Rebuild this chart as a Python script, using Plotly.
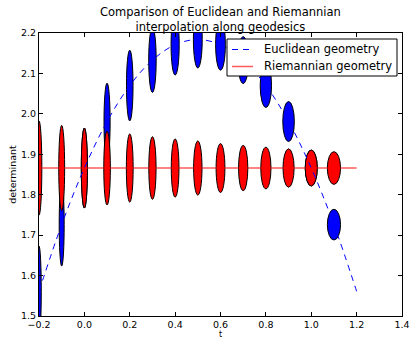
import plotly.graph_objects as go

# ---- data ----
t_line = [-0.2, -0.1, 0.0, 0.1, 0.2, 0.3, 0.4, 0.5, 0.6, 0.7, 0.8, 0.9, 1.0, 1.1, 1.2]
det_euclid = [1.561, 1.726, 1.866, 1.981, 2.070, 2.133, 2.171, 2.184, 2.171, 2.133, 2.070, 1.981, 1.866, 1.726, 1.561]
det_riemann = [1.866] * len(t_line)

t_ell = [-0.2, -0.1, 0.0, 0.1, 0.2, 0.3, 0.4, 0.5, 0.6, 0.7, 0.8, 0.9, 1.0, 1.1]
blue_center = [1.561, 1.726, 1.866, 1.981, 2.070, 2.133, 2.171, 2.184, 2.171, 2.133, 2.070, 1.981, 1.866, 1.726]
blue_width = [0.020, 0.022, 0.027, 0.027, 0.029, 0.033, 0.036, 0.039, 0.043, 0.046, 0.050, 0.051, 0.053, 0.058]
blue_height = [0.224, 0.205, 0.198, 0.190, 0.175, 0.160, 0.150, 0.141, 0.126, 0.116, 0.108, 0.099, 0.089, 0.076]
red_center = [1.866] * len(t_ell)
red_width = [0.025, 0.026, 0.027, 0.029, 0.030, 0.032, 0.034, 0.037, 0.039, 0.041, 0.045, 0.049, 0.053, 0.058]
red_height = [0.233, 0.211, 0.198, 0.183, 0.169, 0.155, 0.144, 0.134, 0.121, 0.112, 0.103, 0.095, 0.089, 0.081]

series_names = ["Euclidean geometry", "Riemannian geometry"]
title_text = "Comparison of Euclidean and Riemannian<br>interpolation along geodesics"

FONT = "DejaVu Sans"
BLUE_LINE = dict(color="#0000ff", width=1, dash="6px,5px")
RED_LINE = dict(color="rgba(255,0,0,0.65)", width=1.5)

fig = go.Figure()
fig.add_trace(go.Scatter(x=t_line, y=det_euclid, mode="lines", name=series_names[0],
                         line=dict(**BLUE_LINE, shape="spline"), showlegend=False))
fig.add_trace(go.Scatter(x=t_line, y=det_riemann, mode="lines", name=series_names[1],
                         line=RED_LINE, showlegend=False))

shapes = []
for t, c, w, h in zip(t_ell, blue_center, blue_width, blue_height):
    shapes.append(dict(type="circle", xref="x", yref="y", x0=t - w / 2, x1=t + w / 2,
                       y0=c - h / 2, y1=c + h / 2, fillcolor="#0000ff",
                       line=dict(color="black", width=1), layer="below"))
for t, c, w, h in zip(t_ell, red_center, red_width, red_height):
    shapes.append(dict(type="circle", xref="x", yref="y", x0=t - w / 2, x1=t + w / 2,
                       y0=c - h / 2, y1=c + h / 2, fillcolor="#ff0000",
                       line=dict(color="black", width=1), layer="below"))

# legend box (matplotlib-style), in paper coordinates
W, H = 410, 339
L, R, T, B = 39, 8, 33, 23
pw, ph = W - L - R, H - T - B
px = lambda p: (p - L) / pw
py = lambda p: 1 - (p - T) / ph
shapes.append(dict(type="rect", xref="paper", yref="paper", x0=px(227), x1=px(397),
                   y0=py(76), y1=py(39), fillcolor="white",
                   line=dict(color="black", width=1), layer="above"))
row_y = [49.5, 66.5]
shapes.append(dict(type="line", xref="paper", yref="paper", x0=px(232), x1=px(253),
                   y0=py(row_y[0]), y1=py(row_y[0]), line=BLUE_LINE, layer="above"))
shapes.append(dict(type="line", xref="paper", yref="paper", x0=px(232), x1=px(253),
                   y0=py(row_y[1]), y1=py(row_y[1]), line=RED_LINE, layer="above"))

annotations = [
    dict(text=title_text, xref="paper", yref="paper", x=0.5, y=1, yshift=13.5,
         showarrow=False, font=dict(family=FONT, size=11.5), xanchor="center", yanchor="middle"),
]
for name, ry in zip(series_names, row_y):
    annotations.append(dict(text=name, xref="paper", yref="paper", x=px(262), y=py(ry),
                            showarrow=False, font=dict(family=FONT, size=11.5),
                            xanchor="left", yanchor="middle"))

fig.update_layout(
    width=W, height=H,
    margin=dict(l=L, r=R, t=T, b=B, autoexpand=False),
    paper_bgcolor="white", plot_bgcolor="white",
    font=dict(family=FONT, size=9.5, color="black"),
    shapes=shapes,
    annotations=annotations,
    showlegend=False,
)
fig.update_xaxes(range=[-0.2, 1.4], tickmode="linear", tick0=-0.2, dtick=0.2, tickformat=".1f",
                 ticks="inside", ticklen=4, tickcolor="black", mirror="ticks", automargin=False,
                 showline=True, linecolor="black", linewidth=1, showgrid=False, zeroline=False,
                 title=dict(text="t", font=dict(size=8), standoff=2))
fig.update_yaxes(range=[1.5, 2.2], tickmode="linear", tick0=1.5, dtick=0.1, tickformat=".1f",
                 ticks="inside", ticklen=4, tickcolor="black", mirror="ticks", automargin=False,
                 showline=True, linecolor="black", linewidth=1, showgrid=False, zeroline=False,
                 title=dict(text="determinant", font=dict(size=9.5), standoff=2))

fig.write_html("out.html", config={"displayModeBar": False},
               post_script="document.body.style.margin='0';document.body.style.overflow='hidden';")
